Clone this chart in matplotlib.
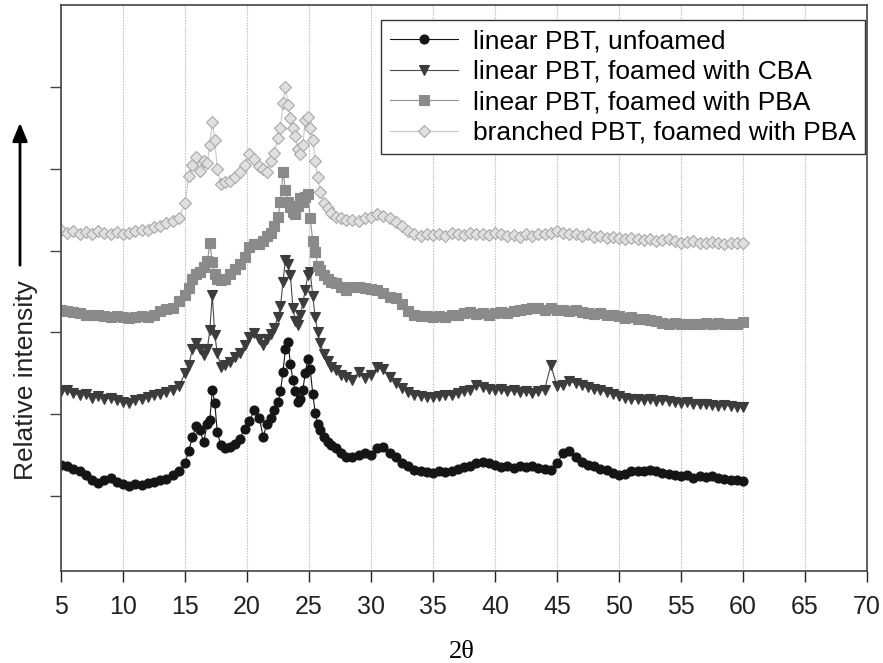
import matplotlib
matplotlib.use("Agg")
import matplotlib.pyplot as plt

# ---------------------------
# DATA (relative units)
# ---------------------------
two_theta = [
    5.0, 5.5, 6.0, 6.5, 7.0, 7.5, 8.0, 8.5, 9.0, 9.5,
    10.0, 10.5, 11.0, 11.5, 12.0, 12.5, 13.0, 13.5, 14.0, 14.5,
    15.0, 15.3, 15.6, 15.9, 16.2, 16.5, 16.8, 17.0, 17.2, 17.4,
    17.6, 17.9, 18.2, 18.6, 19.0, 19.4, 19.8, 20.2, 20.6, 21.0,
    21.3, 21.6, 21.9, 22.2, 22.5, 22.7, 22.9, 23.1, 23.3, 23.5,
    23.7, 23.9, 24.1, 24.3, 24.5, 24.7, 24.9, 25.1, 25.3, 25.5,
    25.7, 25.9, 26.2, 26.5, 26.8, 27.2, 27.6,
    28.0, 28.5, 29.0, 29.5, 30.0, 30.5, 31.0, 31.5, 32.0, 32.5,
    33.0, 33.5, 34.0, 34.5, 35.0, 35.5, 36.0, 36.5, 37.0, 37.5,
    38.0, 38.5, 39.0, 39.5, 40.0, 40.5, 41.0, 41.5, 42.0, 42.5,
    43.0, 43.5, 44.0, 44.5, 45.0, 45.5, 46.0, 46.5, 47.0, 47.5,
    48.0, 48.5, 49.0, 49.5, 50.0, 50.5, 51.0, 51.5, 52.0, 52.5,
    53.0, 53.5, 54.0, 54.5, 55.0, 55.5, 56.0, 56.5, 57.0, 57.5,
    58.0, 58.5, 59.0, 59.5, 60.0,
]

linear_unfoamed = [
    1.38, 1.36, 1.33, 1.30, 1.25, 1.20, 1.16, 1.19, 1.22, 1.17,
    1.14, 1.12, 1.14, 1.13, 1.16, 1.17, 1.19, 1.21, 1.25, 1.30,
    1.40, 1.55, 1.72, 1.85, 1.80, 1.66, 1.88, 1.93, 2.30, 2.14,
    1.78, 1.62, 1.58, 1.60, 1.63, 1.70, 1.82, 1.92, 2.05, 1.95,
    1.72, 1.88, 1.95, 2.05, 2.15, 2.28, 2.52, 2.80, 2.88, 2.62,
    2.42, 2.28, 2.15, 2.18, 2.30, 2.50, 2.68, 2.55, 2.25, 2.02,
    1.88, 1.80, 1.72, 1.66, 1.62, 1.58, 1.52,
    1.48, 1.47, 1.50, 1.52, 1.50, 1.58, 1.60, 1.52, 1.47, 1.40,
    1.36, 1.32, 1.30, 1.29, 1.28, 1.30, 1.29, 1.31, 1.33, 1.35,
    1.37, 1.40, 1.42, 1.40, 1.38, 1.35, 1.37, 1.34, 1.36, 1.35,
    1.37, 1.34, 1.33, 1.32, 1.40, 1.52, 1.55, 1.48, 1.42, 1.38,
    1.36, 1.33, 1.32, 1.28, 1.25, 1.27, 1.30, 1.31, 1.30, 1.32,
    1.31, 1.28, 1.27, 1.26, 1.24, 1.25, 1.22, 1.24, 1.23, 1.24,
    1.22, 1.21, 1.20, 1.19, 1.18,
]

linear_cba = [
    2.28, 2.30, 2.26, 2.23, 2.25, 2.20, 2.22, 2.18, 2.20, 2.17,
    2.15, 2.14, 2.17, 2.19, 2.21, 2.23, 2.25, 2.27, 2.30, 2.34,
    2.50, 2.60, 2.80, 2.87, 2.80, 2.72, 2.80, 3.03, 3.46, 2.97,
    2.75, 2.58, 2.60, 2.64, 2.70, 2.75, 2.85, 2.95, 2.99, 2.92,
    2.85, 2.92, 2.98, 3.06, 3.19, 3.32, 3.62, 3.89, 3.84, 3.70,
    3.30, 3.14, 3.09, 3.21, 3.36, 3.52, 3.70, 3.74, 3.45, 3.19,
    3.00, 2.87, 2.74, 2.65, 2.58, 2.54, 2.48,
    2.45, 2.42, 2.52, 2.44, 2.48, 2.58, 2.55, 2.45, 2.38, 2.32,
    2.27, 2.24, 2.22, 2.21, 2.21, 2.22, 2.24, 2.23, 2.26, 2.28,
    2.30, 2.36, 2.33, 2.31, 2.30, 2.31, 2.28, 2.29, 2.27, 2.28,
    2.26, 2.28, 2.30, 2.60, 2.34, 2.36, 2.40, 2.38, 2.36, 2.33,
    2.31, 2.30, 2.27, 2.25, 2.22, 2.20, 2.18, 2.19, 2.17, 2.18,
    2.16, 2.17, 2.16, 2.15, 2.14, 2.15, 2.13, 2.12, 2.12, 2.11,
    2.10, 2.11, 2.10, 2.09, 2.09,
]

linear_pba = [
    3.27, 3.26, 3.25, 3.24, 3.22, 3.21, 3.22, 3.20, 3.19, 3.20,
    3.19, 3.18, 3.19, 3.20, 3.19, 3.22, 3.26, 3.29, 3.30, 3.38,
    3.46, 3.55, 3.66, 3.72, 3.74, 3.80, 3.87, 4.09, 3.86, 3.72,
    3.66, 3.64, 3.66, 3.72, 3.78, 3.84, 3.92, 4.05, 4.08, 4.08,
    4.12, 4.18, 4.22, 4.30, 4.42, 4.60, 4.97, 4.74, 4.60, 4.54,
    4.48, 4.45, 4.55, 4.65, 4.60, 4.66, 4.70, 4.40, 4.12, 3.99,
    3.82, 3.76, 3.70, 3.66, 3.62, 3.60, 3.56,
    3.52, 3.56, 3.56, 3.54, 3.53, 3.52, 3.48, 3.44, 3.42, 3.35,
    3.26, 3.21, 3.20, 3.20, 3.19, 3.20, 3.19, 3.21, 3.22, 3.24,
    3.25, 3.23, 3.24, 3.22, 3.24, 3.25, 3.24, 3.26, 3.27, 3.29,
    3.30, 3.30, 3.28, 3.30, 3.28, 3.27, 3.26, 3.28, 3.25, 3.24,
    3.23, 3.24, 3.22, 3.21, 3.20, 3.18, 3.19, 3.17, 3.16, 3.15,
    3.14, 3.12, 3.11, 3.12, 3.11, 3.10, 3.11, 3.10, 3.12, 3.11,
    3.12, 3.11, 3.10, 3.11, 3.13,
]

branched_pba = [
    4.25, 4.22, 4.24, 4.20, 4.23, 4.21, 4.24, 4.22, 4.20, 4.23,
    4.21, 4.22, 4.24, 4.26, 4.25, 4.29, 4.30, 4.34, 4.36, 4.40,
    4.58, 4.92, 5.05, 5.15, 4.98, 5.10, 5.08, 5.30, 5.58, 5.36,
    5.00, 4.82, 4.84, 4.86, 4.90, 4.96, 5.05, 5.19, 5.12, 5.04,
    5.00, 4.96, 5.10, 5.20, 5.38, 5.50, 5.81, 6.01, 5.78, 5.62,
    5.50, 5.40, 5.25, 5.18, 5.30, 5.60, 5.64, 5.50, 5.36, 5.10,
    4.90, 4.72, 4.58, 4.52, 4.46, 4.42, 4.40,
    4.38, 4.38, 4.36, 4.40, 4.42, 4.45, 4.43, 4.40, 4.35, 4.30,
    4.24, 4.20, 4.18, 4.20, 4.19, 4.21, 4.18, 4.22, 4.20, 4.19,
    4.22, 4.20, 4.21, 4.19, 4.22, 4.20, 4.18, 4.19, 4.17, 4.20,
    4.18, 4.21, 4.20, 4.22, 4.24, 4.22, 4.20, 4.21, 4.18, 4.20,
    4.17, 4.18, 4.16, 4.17, 4.16, 4.14, 4.16, 4.15, 4.13, 4.14,
    4.12, 4.13, 4.14, 4.12, 4.10, 4.11, 4.12, 4.10, 4.09, 4.11,
    4.09, 4.08, 4.09, 4.10, 4.09,
]

series_labels = [
    "linear PBT, unfoamed",
    "linear PBT, foamed with CBA",
    "linear PBT, foamed with PBA",
    "branched PBT, foamed with PBA",
]
x_ticks = [5, 10, 15, 20, 25, 30, 35, 40, 45, 50, 55, 60, 65, 70]
y_ticks = [1, 2, 3, 4, 5, 6]

# ---------------------------
# PLOT
# ---------------------------
plt.rcParams["font.family"] = ["Liberation Sans", "DejaVu Sans"]

fig = plt.figure(figsize=(8.83, 6.63), dpi=100)
ax = fig.add_axes([0.0691, 0.1388, 0.9128, 0.8537])

# vertical grid only
for xv in x_ticks:
    ax.axvline(xv, color="#c4c4c4", lw=0.8, ls=(0, (1.5, 1)), zorder=0)

styles = [
    dict(color="#151515", marker="o", ms=6.5, mfc="#151515", mec="#151515"),
    dict(color="#4a4a4a", marker="v", ms=7.5, mfc="#3c3c3c", mec="#3c3c3c"),
    dict(color="#909090", marker="s", ms=7, mfc="#8a8a8a", mec="#8a8a8a"),
    dict(color="#c8c8c8", marker="D", ms=6.5, mfc="#e0e0e0", mec="#a8a8a8"),
]
all_series = [linear_unfoamed, linear_cba, linear_pba, branched_pba]
for vals, lab, st in zip(all_series, series_labels, styles):
    ax.plot(two_theta, vals, lw=0.8, label=lab, mew=0.8, **st)

ax.set_xlim(5, 70)
ax.set_ylim(0.08, 7.01)
ax.set_xticks(x_ticks)
ax.set_yticks(y_ticks)
ax.set_yticklabels([])
ax.tick_params(axis="x", direction="out", length=8, width=1, pad=9,
               labelsize=18, colors="#222222")
ax.tick_params(axis="y", direction="out", length=8, width=1, colors="#444444")
for sp in ax.spines.values():
    sp.set_color("#444444")
    sp.set_linewidth(1.2)

leg = ax.legend(loc="upper right", bbox_to_anchor=(0.9975, 0.9735),
                borderaxespad=0, fontsize=19, numpoints=1, handlelength=2.6,
                handletextpad=0.55, labelspacing=0.25, borderpad=0.35,
                fancybox=False, framealpha=1)
leg.get_frame().set_edgecolor("#333333")
leg.get_frame().set_linewidth(1.0)

# axis labels and the arrow
fig.text(26 / 883, 1 - 380 / 663, "Relative intensity", rotation=90,
         ha="center", va="center", fontsize=19, color="#222222")
fig.text(462 / 883, 1 - 652 / 663, "2\u03b8", ha="center", va="center",
         fontsize=19, family=["Liberation Serif", "DejaVu Serif"])
ax.annotate("", xy=(20 / 883, 1 - 120 / 663), xytext=(20 / 883, 1 - 268 / 663),
            xycoords="figure fraction", textcoords="figure fraction",
            arrowprops=dict(arrowstyle="-|>,head_length=1.1,head_width=0.45",
                            color="black", lw=2))

fig.savefig("out.png", dpi=100)
